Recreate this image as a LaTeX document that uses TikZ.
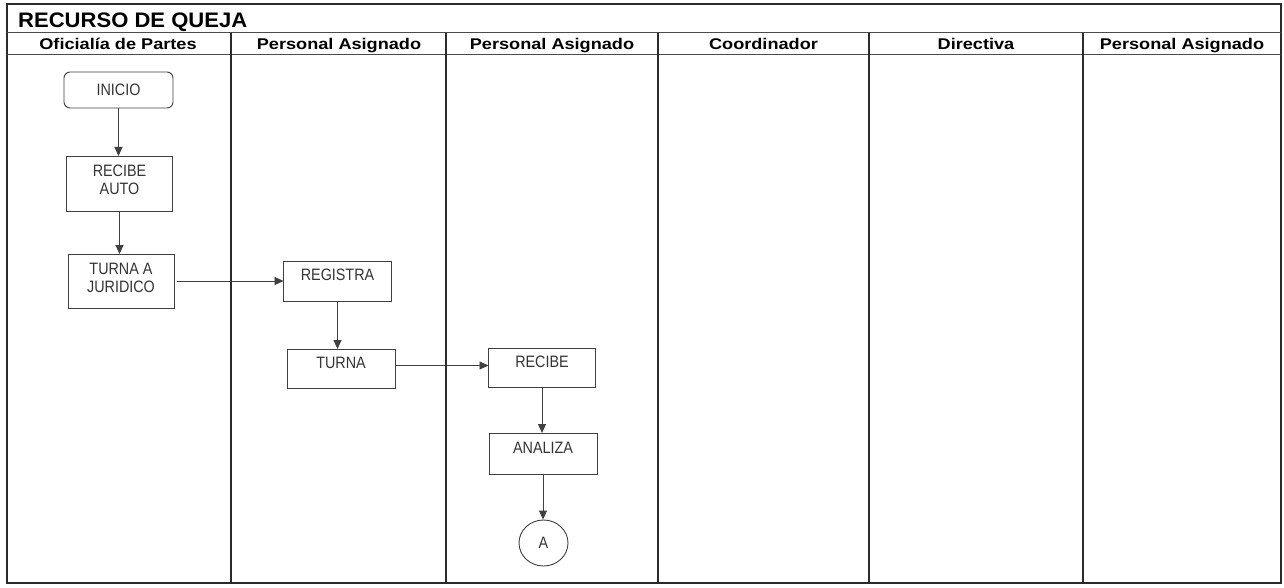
\documentclass[tikz,border=0pt]{standalone}
\usepackage{fontspec}
\setmainfont{Liberation Sans}
\newfontfamily\titlefont[FakeStretch=1.05]{Liberation Sans}
\newfontfamily\headfont[FakeStretch=1.17]{Liberation Sans}
\newfontfamily\boxfont[FakeStretch=0.87]{Liberation Sans}
\usetikzlibrary{arrows.meta,shapes.geometric}
\definecolor{ink}{HTML}{2B2B2B}
\definecolor{boxline}{HTML}{404040}
\definecolor{boxtext}{HTML}{353535}
\begin{document}
\begin{tikzpicture}[x=1pt,y=-1pt,
  lane/.style={draw=ink,line width=1.3pt},
  rulel/.style={draw=ink!85,line width=1pt},
  stepbox/.style={draw=boxline,line width=0.9pt,inner sep=0pt,outer sep=0pt,minimum width=107pt,minimum height=40pt},
  startbox/.style={stepbox,rounded corners=6pt,minimum width=109pt,minimum height=36pt},
  conn/.style={draw=boxline,line width=0.9pt,-{Triangle[length=9pt,width=8pt]}},
  lbl/.style={font=\boxfont\fontsize{16.5}{18}\selectfont,text=boxtext,align=center,inner sep=0pt},
  head/.style={font=\headfont\bfseries\fontsize{15.5}{18}\selectfont,text=black,anchor=base,inner sep=0pt},
]
\useasboundingbox (0,0) rectangle (1284,588);
\fill[white] (0,0) rectangle (1284,588);

% frame and lanes
\draw[lane] (7,4) rectangle (1281,583);
\draw[rulel] (7,33) -- (1281,33);
\draw[rulel] (7,55) -- (1281,55);
\foreach \x in {231,446,658,869,1083} \draw[lane] (\x,33) -- (\x,583);

% title and headers
\node[anchor=base west,inner sep=0pt,font=\titlefont\bfseries\fontsize{21}{24}\selectfont] (title) at (18,28) {RECURSO DE QUEJA};
\node[head] (h1) at (118,50) {Oficialía de Partes};
\node[head] (h2) at (339,50) {Personal Asignado};
\node[head] (h3) at (552,50) {Personal Asignado};
\node[head] (h4) at (763.5,50) {Coordinador};
\node[head] (h5) at (976,50) {Directiva};
\node[head] (h6) at (1182,50) {Personal Asignado};

% process nodes
\node[startbox,lbl] (inicio) at (118.5,90) {INICIO};
\node[stepbox,minimum width=106pt,minimum height=55pt,label={[lbl,yshift=4pt]center:{RECIBE\\AUTO}}] (recauto) at (119.5,183.5) {};
\node[stepbox,minimum width=106pt,minimum height=54pt,label={[lbl,yshift=3.5pt]center:{TURNA A\\JURIDICO}}] (turnaj) at (121,281) {};
\node[stepbox,minimum width=108pt,minimum height=40pt,label={[lbl,yshift=6pt]center:REGISTRA}] (registra) at (337.5,281) {};
\node[stepbox,minimum width=108pt,minimum height=39pt,label={[lbl,yshift=5.5pt]center:TURNA}] (turna) at (341,368.5) {};
\node[stepbox,minimum width=107pt,minimum height=39pt,label={[lbl,yshift=5.5pt]center:RECIBE}] (recibe) at (542,367.5) {};
\node[stepbox,minimum width=108pt,minimum height=41pt,label={[lbl,yshift=5.5pt]center:ANALIZA}] (analiza) at (543,453.5) {};
\node[ellipse,draw=boxline,line width=0.9pt,minimum width=49pt,minimum height=46pt,inner sep=0pt,lbl] (conA) at (543.5,543) {A};

% connectors
\draw[conn] (inicio.south) -- (inicio.south |- recauto.north);
\draw[conn] (recauto.south) -- (recauto.south |- turnaj.north);
\draw[conn] ([xshift=3pt]turnaj.east) -- (registra.west);
\draw[conn] (registra.south) -- (registra.south |- turna.north);
\draw[conn] ([yshift=3pt]turna.east) -- ([yshift=3pt]turna.east -| recibe.west);
\draw[conn] (recibe.south) -- (recibe.south |- analiza.north);
\draw[conn] (analiza.south) -- (analiza.south |- conA.north);
\end{tikzpicture}
\end{document}
